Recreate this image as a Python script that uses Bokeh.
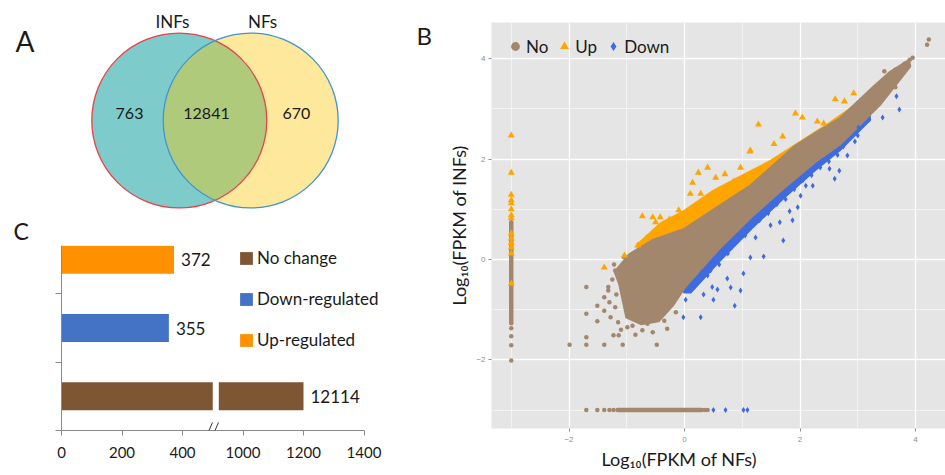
import numpy as np
from bokeh.plotting import figure
from bokeh.models import (Range1d, ColumnDataSource, Legend, LegendItem,
                          FixedTicker, Arrow, Title)
from bokeh.layouts import row, column
from bokeh.core.properties import value
from bokeh.embed import file_html
from bokeh.resources import INLINE

# ---------------------------------------------------------------- data
venn_sets = ["INFs", "NFs"]
venn_counts = [763, 12841, 670]          # INFs only, both, NFs only
panel_letters = ["A", "B", "C"]

bar_categories = ["No change", "Down-regulated", "Up-regulated"]
bar_counts = [12114, 355, 372]
bar_axis_lengths = [1200, 355, 372]      # bar length read on the broken axis
bar_tick_values = [0, 200, 400, 1000, 1200, 1400]

scatter_ticks = [-2, 0, 2, 4]
scatter_minor_ticks = [-3, -1, 1, 3]

# dense cores of the three classes (outline of the point cloud, log10 FPKM)
no_core = [(-1.20, -0.25), (-0.95, 0.10), (-0.55, 0.38), (0.00, 0.60), (0.55, 1.02),
           (1.15, 1.47), (1.90, 2.24), (2.25, 2.50), (2.70, 2.81), (3.27, 3.43),
           (3.55, 3.72), (3.88, 3.96), (3.90, 3.85), (3.39, 3.10), (2.70, 2.31),
           (2.25, 1.94), (1.73, 1.44), (1.15, 0.85), (0.58, 0.20), (0.00, -0.55),
           (-0.20, -0.90), (-0.45, -1.22), (-0.75, -1.28), (-1.00, -1.15), (-1.12, -0.50)]
up_core = [(-0.80, 0.30), (-0.40, 0.72), (0.00, 0.96), (0.50, 1.36), (1.00, 1.66),
           (1.50, 1.96), (2.00, 2.33), (2.50, 2.70), (3.00, 3.10), (3.30, 3.45),
           (3.30, 3.30), (2.50, 2.55), (1.50, 1.70), (0.50, 0.85), (0.00, 0.50),
           (-0.50, 0.25), (-0.80, 0.10)]
down_core = [(0.00, -0.40), (0.58, 0.35), (1.15, 1.00), (1.73, 1.58), (2.25, 2.08),
             (2.70, 2.45), (3.20, 2.95), (3.20, 2.78), (2.70, 2.20), (2.25, 1.78),
             (1.73, 1.25), (1.15, 0.62), (0.58, -0.05), (0.10, -0.65), (0.00, -0.65)]

# genes expressed in only one sample (pseudo value -3), dense runs
no_vstrip = (-3.0, -1.27, 0.74)          # x, y from, y to
no_hstrip = (-3.0, -1.16, 0.30)          # y, x from, x to

no_points = [(-1.70, -0.55), (-1.70, -1.08), (-1.70, -1.55), (-1.70, -1.70), (-1.99, -1.70),
             (-1.39, -1.70), (-1.07, -1.70), (-0.48, -1.70), (-1.51, -0.92), (-1.51, -1.23),
             (-1.39, -0.75), (-1.39, -1.02), (-1.32, -0.55), (-1.23, -1.51), (-1.14, -1.51),
             (-1.20, -0.22), (-0.99, -1.35), (-0.73, -1.41), (-0.64, -1.28), (-1.28, -1.15),
             (-1.30, -0.85), (-1.25, -0.40), (-1.10, -1.40), (-0.85, -1.50), (-0.55, -1.45),
             (-0.30, -1.38), (-1.32, -0.62), (-1.20, -0.95), (-1.18, -0.70), (-1.15, -1.25),
             (-0.90, -1.32), (-0.35, -1.22), (-0.15, -1.05), (-1.22, -0.10), (-1.05, 0.05),
             (4.23, 4.38), (4.20, 4.28), (3.95, 4.02), (3.90, 3.98), (3.81, 3.90), (3.72, 3.70),
             (3.65, 3.78), (3.64, 3.63), (3.46, 3.75), (3.65, 3.43), (3.55, 3.45), (3.39, 3.50),
             (3.31, 3.10), (3.22, 3.15), (2.93, 2.61), (2.84, 2.55),
             (-3, -1.37), (-3, -1.53), (-3, -1.71), (-3, -2.01),
             (-1.70, -3), (-1.51, -3), (-1.39, -3), (-1.30, -3), (-1.23, -3), (0.35, -3), (0.40, -3)]
up_points = [(-3, 2.47), (-3, 1.73), (-3, 1.29), (-3, 1.18), (-3, 1.12), (-3, 1.00), (-3, 0.88),
             (-3, 0.82), (-3, 0.52), (-3, 0.42), (-3, 0.33), (-3, 0.24), (-3, 0.12), (-3, -0.48),
             (-1.39, -0.16), (-1.04, 0.08), (-0.81, 0.28), (-0.73, 0.86), (-0.66, 0.42),
             (-0.50, 0.74), (-0.42, 0.84), (-0.55, 0.84), (-0.26, 0.80), (-0.10, 0.98),
             (-0.54, 0.54), (0.14, 1.53), (0.24, 1.73), (0.40, 1.83), (0.10, 1.31), (0.54, 1.63),
             (0.28, 1.31), (1.28, 2.69), (1.92, 2.91), (2.04, 2.83), (2.61, 3.19), (2.77, 3.15),
             (2.93, 3.31), (1.14, 2.17), (0.97, 1.83), (2.30, 2.75), (2.41, 2.71), (0.70, 1.70),
             (1.13, 2.15), (1.55, 2.30), (1.70, 2.45), (0.85, 1.55)]
down_points = [(3.67, 3.25), (3.72, 2.99), (3.43, 2.83), (3.20, 2.79), (3.01, 2.63), (3.00, 2.47),
               (2.82, 2.07), (2.68, 1.77), (2.60, 1.61), (2.51, 1.81), (2.39, 1.97), (2.22, 1.47),
               (2.10, 1.47), (1.71, 0.38), (1.37, 0.06), (1.49, 0.68), (0.97, -0.62), (0.87, -0.92),
               (0.50, -0.80), (0.02, -0.80), (0.80, -0.56), (1.02, -0.28), (1.14, 0.04), (1.23, 0.44),
               (1.87, 0.78), (1.96, 1.04), (2.01, 1.27), (1.82, 0.96), (1.65, 0.74), (0.28, -1.15),
               (-0.02, -1.15), (0.33, -0.70), (0.57, -0.60), (0.48, -0.55), (0.24, -0.45),
               (0.40, -0.32), (0.74, -0.38), (2.95, 2.35), (2.75, 2.25),
               (0.30, -0.25), (0.60, -0.10), (0.90, 0.35), (1.30, 0.78), (1.60, 1.10),
               (1.90, 1.40), (2.20, 1.68), (2.50, 1.95), (0.75, 0.12), (1.05, 0.48), (1.45, 0.92),
               (1.75, 1.20), (2.05, 1.58), (2.35, 1.83), (2.65, 2.08), (0.15, -0.52), (0.45, -0.22),
               (0.50, -3), (0.71, -3), (1.02, -3), (1.09, -3)]

# ---------------------------------------------------------------- styles
FONT = "Lato"
INK = "#1a1a1a"
C_NO, C_UP, C_DOWN = "#A3876C", "#FFA500", "#3F6BE0"
BAR_COLORS = ["#7F5634", "#4472C4", "#FF9000"]

# ================================================================ panel A (Venn) + letters
PX = 87.5                     # pixels per circle radius
CX0, CY0 = 214.5, 120         # pixel position of the Venn centre in this figure
W1, H1 = 440, 245
R, SEP = 1.0, 0.816           # radius and centre separation (radius units)
p1 = figure(width=W1, height=H1, output_backend="svg", toolbar_location=None,
            x_range=Range1d(-CX0 / PX, (W1 - CX0) / PX),
            y_range=Range1d(-(H1 - CY0) / PX, CY0 / PX),
            x_axis_location=None, y_axis_location=None, outline_line_color=None,
            min_border_left=0, min_border_right=0, min_border_top=0, min_border_bottom=0,
            frame_align=False)
p1.xgrid.visible = False
p1.ygrid.visible = False
h = SEP / 2
cx = [-h, h]
p1.circle(x=cx, y=[0, 0], radius=R, fill_color=["#7ECBCB", "#FDE89B"], line_color=None)
k = np.sqrt(R ** 2 - h ** 2)
th = np.arctan2(k, h)
t1 = np.linspace(-th, th, 80)
t2 = np.linspace(np.pi - th, np.pi + th, 80)
lens_x = np.concatenate([-h + R * np.cos(t1), h + R * np.cos(t2)])
lens_y = np.concatenate([R * np.sin(t1), R * np.sin(t2)])
p1.patch(lens_x, lens_y, fill_color="#B0CA7C", line_color=None)
p1.circle(x=cx, y=[0, 0], radius=R, fill_color=None,
          line_color=["#E8414A", "#3F95CE"], line_width=1.3)
p1.text(x=[-0.977, -0.097, 0.931], y=[0.08, 0.08, 0.08], text=[str(c) for c in venn_counts],
        text_align="center", text_baseline="middle", text_font=value(FONT),
        text_font_size="16px", text_color=INK)
p1.text(x=[-0.486, 0.543], y=[1.131, 1.131], text=venn_sets, text_align="center",
        text_baseline="middle", text_font=value(FONT), text_font_size="17px", text_color=INK)
# panel letters: pixel position (left edge, vertical centre) in this figure
letter_px = [(15, 40), (416, 34.5), (13, 230)]
letter_size = ["28px", "24px", "23px"]
for L, (lx, ly), fs in zip(panel_letters, letter_px, letter_size):
    p1.text(x=[(lx - CX0) / PX], y=[(CY0 - ly) / PX], text=[L], text_align="left",
            text_baseline="middle", text_font=value(FONT), text_font_size=fs,
            text_color=INK)

# ================================================================ panel C (bars)
BREAK, SHIFT, GAP = 500, 400, 20


def axis_pos(v):
    return v if v <= BREAK else v - SHIFT


PXX = 0.3025                  # px per axis unit
PXY = 68.33                   # px per category band
W2, H2 = 440, 230
BL, BB = 61, 45               # left / bottom borders
frame_h = H2 - BB
p2 = figure(width=W2, height=H2, output_backend="svg", toolbar_location=None,
            x_range=Range1d(0, (W2 - BL) / PXX), y_range=Range1d(0, frame_h / PXY),
            outline_line_color=None, frame_align=False,
            min_border_left=BL, min_border_right=0, min_border_top=0, min_border_bottom=BB)
p2.xgrid.visible = False
p2.ygrid.visible = False
BAR_H = 0.41
items = []
for i, (cat, L, col) in enumerate(zip(bar_categories, bar_axis_lengths, BAR_COLORS)):
    end = axis_pos(L)
    if L > BREAK:
        lefts, rights = [0, BREAK + GAP], [BREAK, end]
    else:
        lefts, rights = [0], [end]
    src = ColumnDataSource(dict(y=[i + 0.5] * len(lefts), left=lefts, right=rights))
    r = p2.hbar(y="y", left="left", right="right", height=BAR_H, source=src,
                fill_color=col, line_color=None)
    items.append(LegendItem(label=cat, renderers=[r]))
p2.text(x=[axis_pos(L) for L in bar_axis_lengths], y=[i + 0.5 for i in range(len(bar_counts))],
        text=[str(c) for c in bar_counts], x_offset=7, text_baseline="middle",
        text_align="left", text_font=value(FONT), text_font_size="17px", text_color=INK)
leg2 = Legend(items=items, location=(177, 80), orientation="vertical",
              glyph_width=16, glyph_height=16, label_standoff=3, spacing=20,
              label_height=20, padding=0, margin=0, border_line_color=None,
              background_fill_alpha=0, label_text_font=FONT, label_text_font_size="17px",
              label_text_color=INK)
p2.add_layout(leg2)
p2.xaxis.ticker = FixedTicker(ticks=[axis_pos(v) for v in bar_tick_values])
p2.xaxis.major_label_overrides = {axis_pos(v): str(v) for v in bar_tick_values}
p2.xaxis.bounds = (0, axis_pos(bar_tick_values[-1]))
p2.yaxis.ticker = FixedTicker(ticks=[0, 1, 2, 3])
p2.yaxis.major_label_overrides = {0: "", 1: "", 2: "", 3: ""}
p2.yaxis.bounds = (0, 3)
for ax in (p2.xaxis[0], p2.yaxis[0]):
    ax.axis_line_color = "#8A8A8A"
    ax.major_tick_line_color = "#8A8A8A"
    ax.minor_tick_line_color = None
    ax.major_tick_in = 0
    ax.major_label_text_font = FONT
    ax.major_label_text_font_size = "15px"
    ax.major_label_text_color = INK
p2.xaxis.major_tick_out = 5
p2.xaxis.major_label_standoff = 11
p2.yaxis.major_tick_out = 6
# axis break marks "//"
for dx in (0, GAP):
    p2.add_layout(Arrow(start=None, end=None, x_start=BREAK - 24 + dx, y_start=-8 / PXY,
                        x_end=BREAK - 1 + dx, y_end=8 / PXY, line_color="#333333",
                        line_width=1))

# ================================================================ panel B (scatter)
p3 = figure(width=505, height=475, output_backend="svg", toolbar_location=None,
            x_range=Range1d(-3.342, 4.519), y_range=Range1d(-3.367, 4.721),
            background_fill_color="#E6E5E5", outline_line_color=None,
            min_border_left=51, min_border_right=0, min_border_top=22, min_border_bottom=47,
            frame_align=False)
for coreset, col in ((up_core, C_UP), (down_core, C_DOWN), (no_core, C_NO)):
    xs, ys = zip(*coreset)
    p3.patch(list(xs), list(ys), fill_color=col, line_color=col, line_width=3,
             line_join="round")
p3.segment(x0=[no_vstrip[0], no_hstrip[1]], y0=[no_vstrip[1], no_hstrip[0]],
           x1=[no_vstrip[0], no_hstrip[2]], y1=[no_vstrip[2], no_hstrip[0]],
           line_color=C_NO, line_width=4.5, line_cap="round")
nx, ny = zip(*no_points)
r_no = p3.scatter(list(nx), list(ny), marker="circle", size=4.5, fill_color=C_NO, line_color=None)
ux, uy = zip(*up_points)
r_up = p3.scatter(list(ux), list(uy), marker="triangle", size=7, fill_color=C_UP, line_color=None)
dx_, dy_ = zip(*down_points)
r_down = p3.scatter(list(dx_), list(dy_), marker="diamond", size=6, fill_color=C_DOWN,
                    line_color=None)

leg3 = Legend(items=[LegendItem(label="No", renderers=[r_no]),
                     LegendItem(label="Up", renderers=[r_up]),
                     LegendItem(label="Down", renderers=[r_down])],
              location=(13, 371), orientation="horizontal", glyph_width=22, glyph_height=22,
              label_standoff=0, spacing=5, padding=0, margin=0, border_line_color=None,
              background_fill_alpha=0, label_text_font=FONT, label_text_font_size="17px",
              label_text_color=INK)
p3.add_layout(leg3)

p3.xaxis.ticker = FixedTicker(ticks=scatter_ticks, minor_ticks=scatter_minor_ticks)
p3.yaxis.ticker = FixedTicker(ticks=scatter_ticks, minor_ticks=scatter_minor_ticks)
for g in (p3.xgrid[0], p3.ygrid[0]):
    g.grid_line_color = "white"
    g.grid_line_width = 1.3
    g.minor_grid_line_color = "white"
    g.minor_grid_line_width = 0.7
    g.minor_grid_line_alpha = 0.8
for ax in (p3.xaxis[0], p3.yaxis[0]):
    ax.axis_line_color = None
    ax.minor_tick_line_color = None
    ax.major_tick_line_color = "#8C8C8C"
    ax.major_tick_in = 0
    ax.major_tick_out = 3
    ax.major_label_text_font = "Liberation Sans"
    ax.major_label_text_font_size = "8px"
    ax.major_label_text_color = "#8C8C8C"
p3.xaxis.major_label_standoff = 4
p3.yaxis.major_label_standoff = 2
p3.yaxis.axis_label = "Log\u2081\u2080(FPKM of INFs)"
p3.yaxis.axis_label_text_font = FONT
p3.yaxis.axis_label_text_font_size = "18px"
p3.yaxis.axis_label_text_font_style = "normal"
p3.yaxis.axis_label_text_color = INK
p3.yaxis.axis_label_standoff = 3
p3.add_layout(Title(text="Log\u2081\u2080(FPKM of NFs)", align="left", offset=110, standoff=2,
                    text_font=FONT, text_font_size="18px", text_font_style="normal",
                    text_color=INK), "below")

layout = row(column(p1, p2), p3)
open("out.html", "w").write(file_html(layout, INLINE))
